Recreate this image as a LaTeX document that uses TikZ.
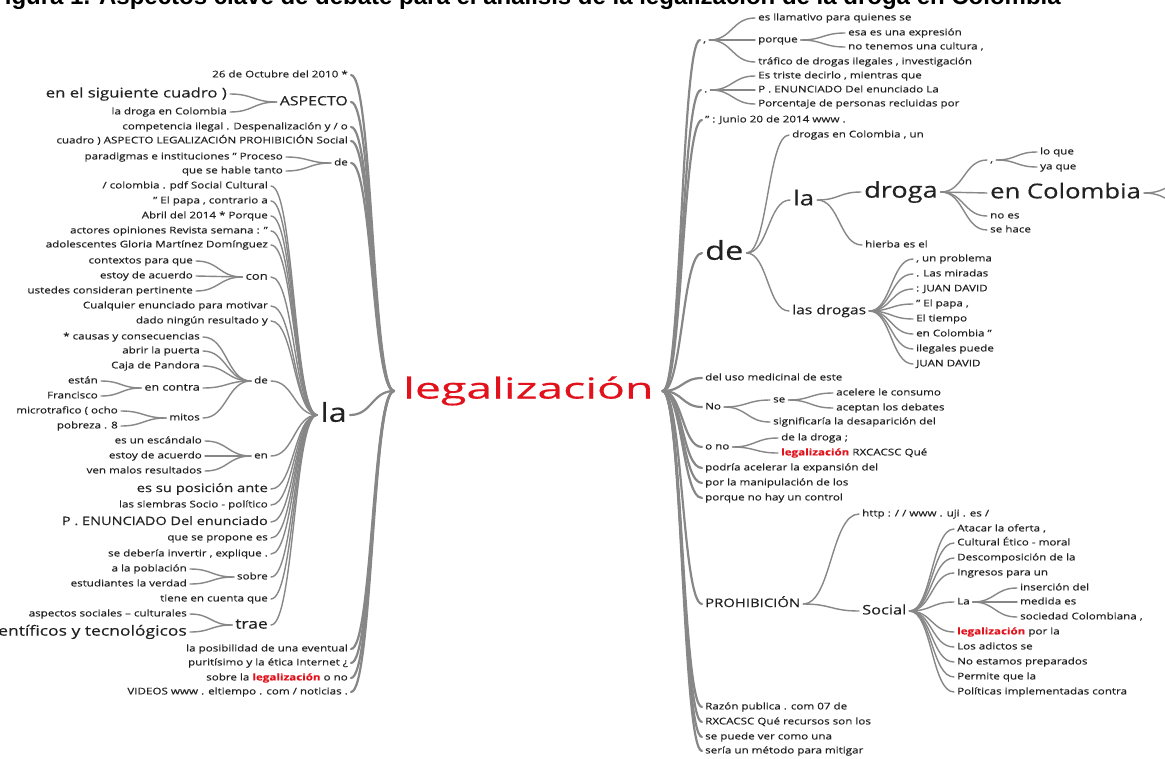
\documentclass[tikz,border=0pt]{standalone}
\usepackage{fontspec}
\setmainfont[FakeStretch=1.25,FakeBold=0.35]{Open Sans}
\newfontfamily\titlefont{Liberation Sans}
\usepackage{graphicx}
\usetikzlibrary{calc}
\definecolor{txt}{RGB}{34,34,34}
\definecolor{lnk}{RGB}{135,135,135}
\definecolor{lred}{RGB}{226,18,28}
\newcommand\hl[1]{\textcolor{lred}{\bfseries #1}}
\tikzset{
 f/.style={font=\fontsize{#1}{#1}\selectfont, text height={0.74*#1pt}, text depth={0.22*#1pt}},
 w/.style={inner xsep=3pt, inner ysep=0pt, text=txt},
 L/.style={w, f=9.3, anchor=east},
 R/.style={w, f=9.3, anchor=west},
 link/.style={draw=lnk, line width=1.4pt, line cap=round},
 trunk/.style={line width=2.2pt},
}
\newcommand\wlink[3][]{\draw[link,#1] let \p1=(#2), \p2=(#3), \n1={(\x2-\x1)/2} in (\p1) .. controls ({\x1+(\n1)},\y1) and ({\x2-(\n1)},\y2) .. (\p2);}
\begin{document}
\begin{tikzpicture}[x=1pt,y=-1pt]
\useasboundingbox (0,0) rectangle (1165,758);
\clip (0,0) rectangle (1165,758);
\fill[white] (0,0) rectangle (1165,758);
% title (cut at the top)
\node[anchor=base west, inner sep=0pt, font=\titlefont\bfseries\fontsize{24}{24}\selectfont, text=black] (title) at (-10,4.7) {Figura 1. Aspectos clave de debate para el análisis de la legalización de la droga en Colombia};
% root
\node[w, f=29, text=lred, inner xsep=9pt, anchor=west] (leg) at (394,391) {\scalebox{1.28}[1]{legalización}};
% ---------- left side ----------
\node[L] (l01) at (351,75) {26 de Octubre del 2010 *};
\node[L,f=12.7] (asp) at (351,102) {ASPECTO};
\node[L,f=13.4] (asp1) at (230,94) {en el siguiente cuadro )};
\node[L] (asp2) at (230,112) {la droga en Colombia};
\node[L] (l03) at (351,127) {competencia ilegal . Despenalización y / o};
\node[L] (l04) at (351,141) {cuadro ) ASPECTO LEGALIZACIÓN PROHIBICIÓN Social};
\node[L] (deA) at (351,163) {de};
\node[L] (deA1) at (286,157) {paradigmas e instituciones " Proceso};
\node[L] (deA2) at (286,171) {que se hable tanto};
\node[L,f=26] (la) at (350,415) {la};
\node[L] (la01) at (271,186) {/ colombia . pdf Social Cultural};
\node[L] (la02) at (271,201) {" El papa , contrario a};
\node[L] (la03) at (271,216) {Abril del 2014 * Porque};
\node[L] (la04) at (271,231) {actores opiniones Revista semana : "};
\node[L] (la05) at (271,245) {adolescentes Gloria Martínez Domínguez};
\node[L,f=10.5] (con) at (271,277) {con};
\node[L] (con1) at (196,261) {contextos para que};
\node[L] (con2) at (196,276) {estoy de acuerdo};
\node[L] (con3) at (196,291) {ustedes consideran pertinente};
\node[L] (la06) at (271,306) {Cualquier enunciado para motivar};
\node[L] (la07) at (271,321) {dado ningún resultado y};
\node[L] (deB) at (271,381) {de};
\node[L] (deB1) at (203,337) {* causas y consecuencias};
\node[L] (deB2) at (203,351) {abrir la puerta};
\node[L] (deB3) at (203,366) {Caja de Pandora};
\node[L,f=10] (ecn) at (203,388) {en contra};
\node[L] (ecn1) at (101,381) {están};
\node[L] (ecn2) at (101,396) {Francisco};
\node[L] (mit) at (203,418) {mitos};
\node[L] (mit1) at (121,411) {microtrafico ( ocho};
\node[L] (mit2) at (121,426) {pobreza . 8};
\node[L] (en) at (271,456) {en};
\node[L] (en1) at (205,441) {es un escándalo};
\node[L] (en2) at (205,456) {estoy de acuerdo};
\node[L] (en3) at (205,471) {ven malos resultados};
\node[L,f=11.8] (la08) at (271,489) {es su posición ante};
\node[L] (la09) at (271,505) {las siembras Socio - político};
\node[L,f=11.6] (la10) at (271,522) {P . ENUNCIADO Del enunciado};
\node[L] (la11) at (271,538) {que se propone es};
\node[L] (la12) at (271,554) {se debería invertir , explique .};
\node[L] (sob) at (271,577) {sobre};
\node[L] (sob1) at (190,569) {a la población};
\node[L] (sob2) at (190,584) {estudiantes la verdad};
\node[L] (la13) at (271,599) {tiene en cuenta que};
\node[L,f=14] (tra) at (271,625) {trae};
\node[L] (tra1) at (190,614) {aspectos sociales – culturales};
\node[L,f=14] (tra2) at (190,632) {científicos y tecnológicos};
\node[L] (l05) at (351,649) {la posibilidad de una eventual};
\node[L] (l06) at (351,663) {puritísimo y la ética Internet ¿};
\node[L] (l07) at (351,678) {sobre la \hl{legalización} o no};
\node[L] (l08) at (351,692) {VIDEOS www . eltiempo . com / noticias .};
% ---------- right side ----------
\node[R] (c1) at (700,40) {,};
\node[R] (c11) at (755,18) {es llamativo para quienes se};
\node[R] (por) at (755,40) {porque};
\node[R] (por1) at (845,33) {esa es una expresión};
\node[R] (por2) at (845,47) {no tenemos una cultura ,};
\node[R] (c13) at (755,62) {tráfico de drogas ilegales , investigación};
\node[R] (c2) at (701,90) {.};
\node[R] (c21) at (755,76) {Es triste decirlo , mientras que};
\node[R] (c22) at (755,90) {P . ENUNCIADO Del enunciado La};
\node[R] (c23) at (755,104) {Porcentaje de personas recluidas por};
\node[R] (c3) at (702,120) {" : Junio 20 de 2014 www .};
\node[R,f=26] (deR) at (702,253) {de};
\node[R] (deR1) at (789,135) {drogas en Colombia , un};
\node[R,f=20.6] (laR) at (790,200) {la};
\node[R,f=21.7] (drg) at (861,192) {droga};
\node[R] (cm) at (987,160) {,};
\node[R] (cm1) at (1037,152) {lo que};
\node[R] (cm2) at (1037,167) {ya que};
\node[R,f=20.5] (ecol) at (987,193) {en Colombia};
\coordinate (ecolA) at (1200,176);
\coordinate (ecolB) at (1200,212);
\node[R] (drg3) at (987,216) {no es};
\node[R] (drg4) at (987,230) {se hace};
\node[R] (laR2) at (862,245) {hierba es el};
\node[R,f=12.5] (lds) at (789,311) {las drogas};
\node[R] (lds1) at (913,259) {, un problema};
\node[R] (lds2) at (913,274) {. Las miradas};
\node[R] (lds3) at (913,289) {: JUAN DAVID};
\node[R] (lds4) at (913,304) {" El papa ,};
\node[R] (lds5) at (913,319) {El tiempo};
\node[R] (lds6) at (913,334) {en Colombia "};
\node[R] (lds7) at (913,349) {ilegales puede};
\node[R] (lds8) at (913,364) {JUAN DAVID};
\node[R] (r04) at (702,378) {del uso medicinal de este};
\node[R] (no) at (702,407) {No};
\node[R] (se) at (770,400) {se};
\node[R] (se1) at (833,393) {acelere le consumo};
\node[R] (se2) at (833,408) {aceptan los debates};
\node[R] (no2) at (770,422) {significaría la desaparición del};
\node[R] (ono) at (702,447) {o no};
\node[R] (ono1) at (778,438) {de la droga ;};
\node[R] (ono2) at (778,453) {\hl{legalización} RXCACSC Qué};
\node[R] (r07) at (702,468) {podría acelerar la expansión del};
\node[R] (r08) at (702,483) {por la manipulación de los};
\node[R] (r09) at (702,498) {porque no hay un control};
\node[R,f=11.9] (pro) at (702,604) {PROHIBICIÓN};
\node[R] (pro1) at (859,514) {http : / / www . uji . es /};
\node[R,f=13.1] (soc) at (859,611) {Social};
\node[R] (soc1) at (954,529) {Atacar la oferta ,};
\node[R] (soc2) at (954,543) {Cultural Ético - moral};
\node[R] (soc3) at (954,558) {Descomposición de la};
\node[R] (soc4) at (954,573) {Ingresos para un};
\node[R] (La) at (954,602) {La};
\node[R] (La1) at (1017,588) {inserción del};
\node[R] (La2) at (1017,602) {medida es};
\node[R] (La3) at (1017,617) {sociedad Colombiana ,};
\node[R] (soc6) at (954,632) {\hl{legalización} por la};
\node[R] (soc7) at (954,647) {Los adictos se};
\node[R] (soc8) at (954,662) {No estamos preparados};
\node[R] (soc9) at (954,677) {Permite que la};
\node[R] (soc10) at (954,692) {Políticas implementadas contra};
\node[R] (r11) at (702,707) {Razón publica . com 07 de};
\node[R] (r12) at (702,722) {RXCACSC Qué recursos son los};
\node[R] (r13) at (702,737) {se puede ver como una};
\node[R] (r14) at (702,751) {sería un método para mitigar};
% ---------- connectors ----------
\foreach \c in {l01,asp,l03,l04,deA,la,l05,l06,l07,l08}{\wlink[trunk]{leg.west}{\c.east}}
\foreach \c in {c1,c2,c3,deR,r04,no,ono,r07,r08,r09,pro,r11,r12,r13,r14}{\wlink[trunk]{leg.east}{\c.west}}
\foreach \c in {asp1,asp2}{\wlink{asp.west}{\c.east}}
\foreach \c in {deA1,deA2}{\wlink{deA.west}{\c.east}}
\foreach \c in {la01,la02,la03,la04,la05,con,la06,la07,deB,en,la08,la09,la10,la11,la12,sob,la13,tra}{\wlink{la.west}{\c.east}}
\foreach \c in {con1,con2,con3}{\wlink{con.west}{\c.east}}
\foreach \c in {deB1,deB2,deB3,ecn,mit}{\wlink{deB.west}{\c.east}}
\foreach \c in {ecn1,ecn2}{\wlink{ecn.west}{\c.east}}
\foreach \c in {mit1,mit2}{\wlink{mit.west}{\c.east}}
\foreach \c in {en1,en2,en3}{\wlink{en.west}{\c.east}}
\foreach \c in {sob1,sob2}{\wlink{sob.west}{\c.east}}
\foreach \c in {tra1,tra2}{\wlink{tra.west}{\c.east}}
\foreach \c in {c11,por,c13}{\wlink{c1.east}{\c.west}}
\foreach \c in {por1,por2}{\wlink{por.east}{\c.west}}
\foreach \c in {c21,c22,c23}{\wlink{c2.east}{\c.west}}
\foreach \c in {deR1,laR,lds}{\wlink{deR.east}{\c.west}}
\foreach \c in {drg,laR2}{\wlink{laR.east}{\c.west}}
\foreach \c in {cm,ecol,drg3,drg4}{\wlink{drg.east}{\c.west}}
\foreach \c in {cm1,cm2}{\wlink{cm.east}{\c.west}}
\foreach \c in {ecolA,ecolB}{\wlink{ecol.east}{\c}}
\foreach \c in {lds1,lds2,lds3,lds4,lds5,lds6,lds7,lds8}{\wlink{lds.east}{\c.west}}
\foreach \c in {se,no2}{\wlink{no.east}{\c.west}}
\foreach \c in {se1,se2}{\wlink{se.east}{\c.west}}
\foreach \c in {ono1,ono2}{\wlink{ono.east}{\c.west}}
\foreach \c in {pro1,soc}{\wlink{pro.east}{\c.west}}
\foreach \c in {soc1,soc2,soc3,soc4,La,soc6,soc7,soc8,soc9,soc10}{\wlink{soc.east}{\c.west}}
\foreach \c in {La1,La2,La3}{\wlink{La.east}{\c.west}}
\end{tikzpicture}
\end{document}
